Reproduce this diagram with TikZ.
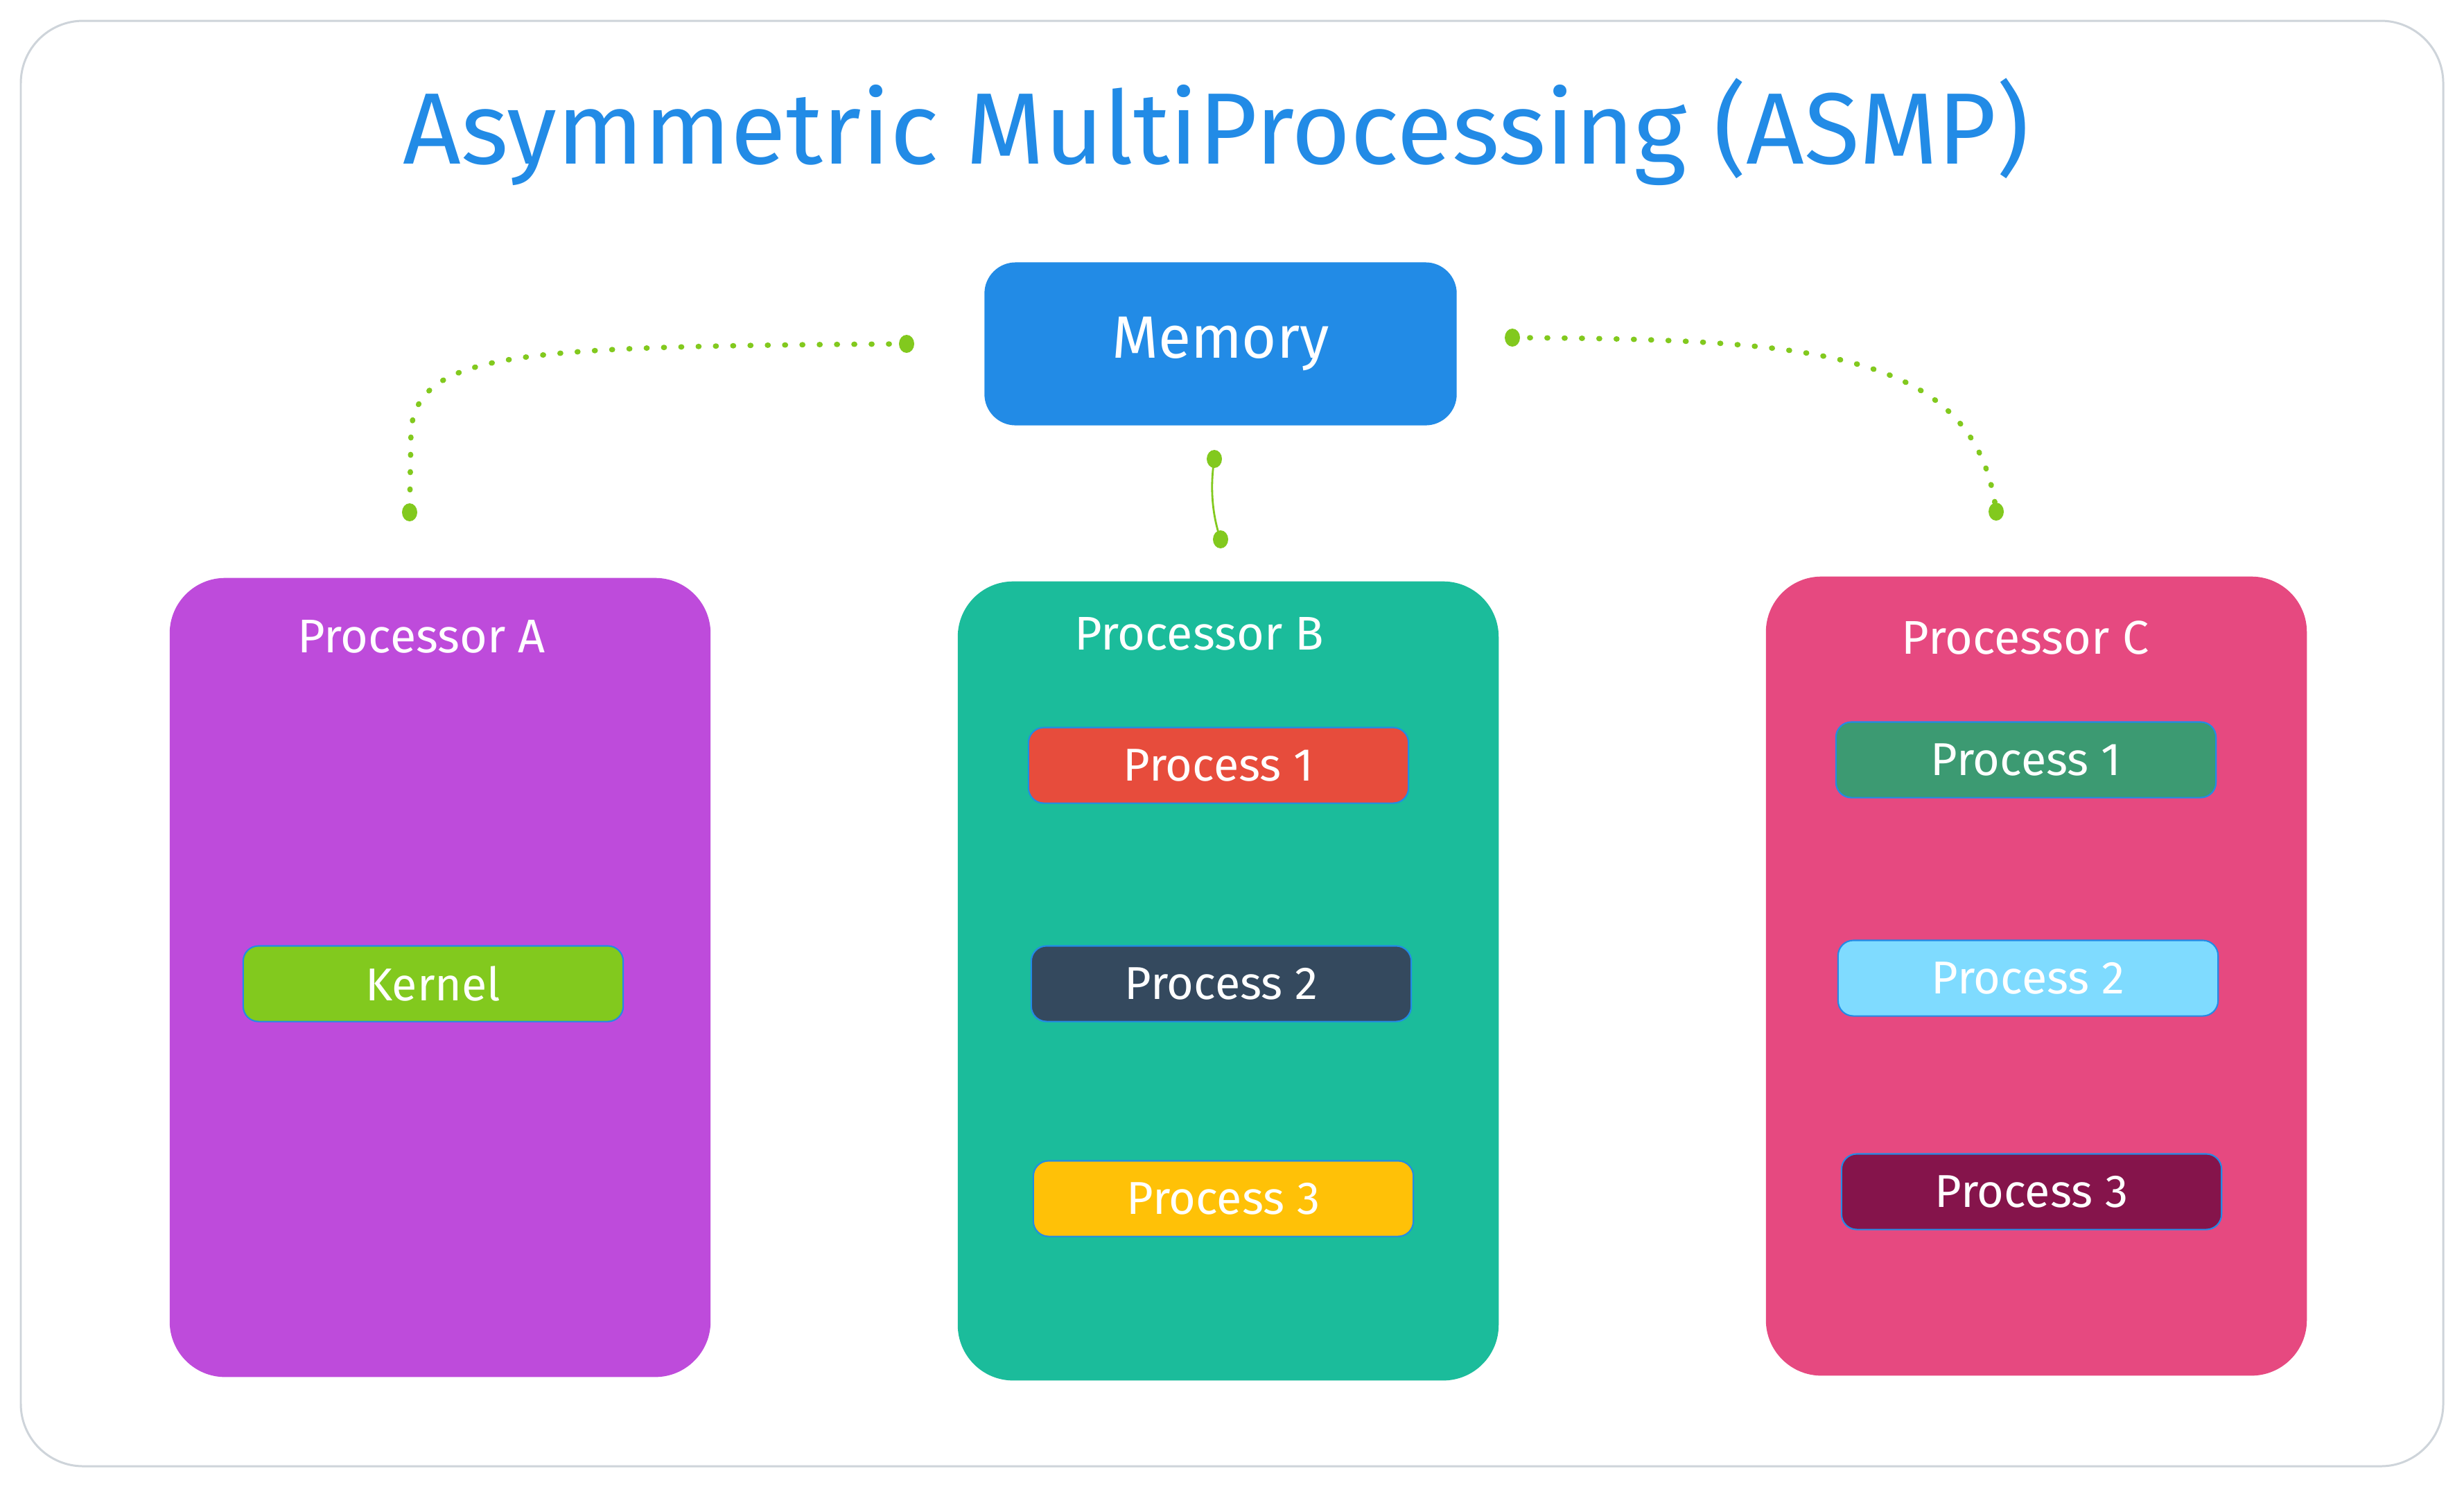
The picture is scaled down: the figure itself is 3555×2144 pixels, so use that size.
\documentclass[tikz,border=0pt]{standalone}
\usepackage{fontspec}
\setmainfont{Fira Sans}

\definecolor{memblue}{HTML}{228BE6}
\definecolor{framegray}{HTML}{CED4DA}
\definecolor{linkgreen}{HTML}{82C91E}
\definecolor{procAcol}{HTML}{BE4BDB}
\definecolor{procBcol}{HTML}{1BBC9B}
\definecolor{procCcol}{HTML}{E64980}
\definecolor{redtask}{HTML}{E74C3C}
\definecolor{navytask}{HTML}{34495E}
\definecolor{yellowtask}{HTML}{FFC107}
\definecolor{greentask}{HTML}{3C9A72}
\definecolor{cyantask}{HTML}{7FDBFF}
\definecolor{maroontask}{HTML}{85144B}

\begin{document}
\begin{tikzpicture}[x=0.01cm,y=-0.01cm,
  proc/.style={rounded corners=0.8cm,minimum width=7.8cm,minimum height=11.52cm,inner sep=0pt},
  task/.style={draw=memblue,line width=0.6pt,rounded corners=0.22cm,minimum width=5.48cm,minimum height=1.09cm,inner sep=0pt,text=white,font=\fontsize{18.9}{22}\selectfont},
  lbl/.style={text=white,font=\fontsize{19.4}{23}\selectfont},
  link/.style={draw=linkgreen,line width=2.2pt,line cap=round,dash pattern=on 0.3pt off 6.8pt},
  pin/.style={fill=linkgreen}]

\path[use as bounding box] (0,0) rectangle (3555,2144);
\fill[white] (0,0) rectangle (3555,2144);
\draw[draw=framegray,line width=0.85pt,rounded corners=0.9cm] (30,30) rectangle (3525,2115);

%title
\node[text=memblue,font=\fontsize{41.6}{50}\selectfont,anchor=base] (title) at (1755,236) {Asymmetric MultiProcessing (ASMP)};

%memory
\node[fill=memblue,rounded corners=0.45cm,minimum width=6.81cm,minimum height=2.35cm,inner sep=0pt,text=white,font=\fontsize{24.5}{29}\selectfont] (mem) at (1761,496) {Memory};

%proc A
\node[proc,fill=procAcol] (procA) at (635,1410) {};
\node[lbl] (labA) at (608,918) {Processor A};
\node[task,fill=linkgreen] (kernel) at (625,1419) {Kernel};

%proc B
\node[proc,fill=procBcol] (procB) at (1772,1415) {};
\node[lbl] (labB) at (1730,914) {Processor B};
\node[task,fill=redtask] (b1) at (1758,1104) {Process 1};
\node[task,fill=navytask] (b2) at (1762,1419) {Process 2};
\node[task,fill=yellowtask] (b3) at (1765,1729) {Process 3};

%proc C
\node[proc,fill=procCcol] (procC) at (2938,1408) {};
\node[lbl] (labC) at (2922,920) {Processor C};
\node[task,fill=greentask] (c1) at (2923,1096) {Process 1};
\node[task,fill=cyantask] (c2) at (2926,1411) {Process 2};
\node[task,fill=maroontask] (c3) at (2931,1719) {Process 3};

%links
\coordinate (memW) at (1308,496);
\coordinate (memE) at (2182,487);
\coordinate (memS) at (1752,662);
\coordinate (topA) at (591,739);
\coordinate (topB) at (1761,778);
\coordinate (topC) at (2880,738);

\path[link] (memW) .. controls (760,500) and (605,505) .. (593,620) -- (topA);
\path[link] (memE) .. controls (2600,490) and (2850,500) .. (topC);
\path[draw=linkgreen,line width=0.8pt] (memS) .. controls (1746,700) and (1748,740) .. (topB);

\foreach \p in {memW,memE,memS,topA,topB,topC}
  \fill[pin] (\p) ellipse [x radius=11,y radius=13];

\end{tikzpicture}
\end{document}
